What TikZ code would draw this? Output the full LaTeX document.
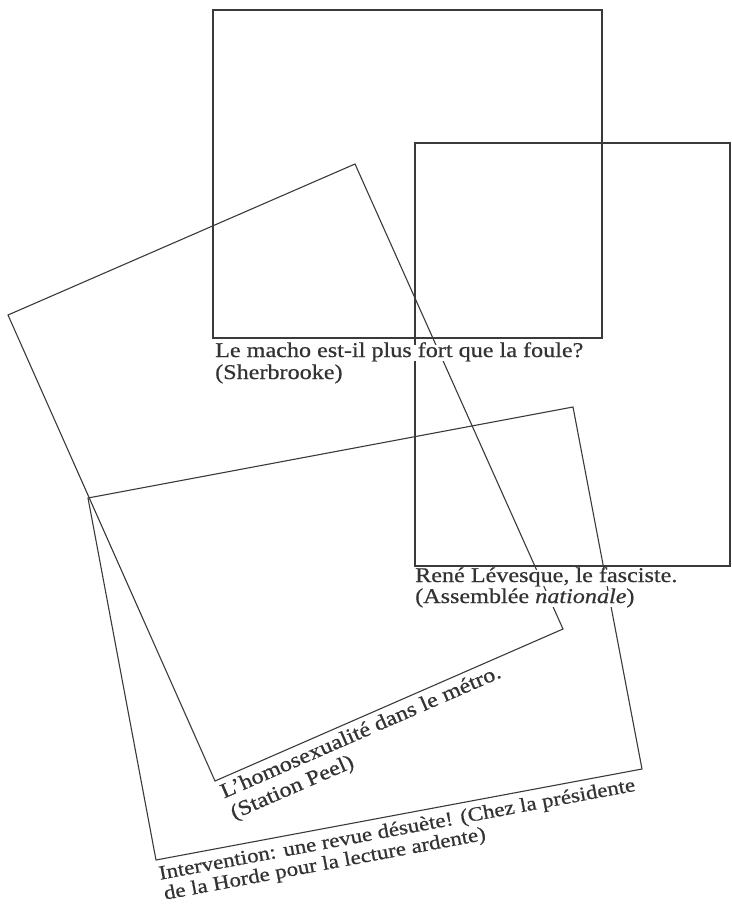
\documentclass[tikz,border=0pt]{standalone}
\usepackage{fontspec}
\setmainfont[FakeStretch=1.15,FakeBold=0.6]{Liberation Serif}
\definecolor{linec}{HTML}{3A3A3A}
\definecolor{textc}{HTML}{333333}
\begin{document}
\begin{tikzpicture}[x=1pt,y=-1pt,
  frame/.style={draw=linec, line width=1.1pt, line join=miter},
  labtext/.style={fill=white, text=textc, inner xsep=1pt, inner ysep=0pt,
    text height=12pt, text depth=4pt,
    font=\fontsize{21}{22}\selectfont, anchor=base west},
  smalltext/.style={labtext, font=\fontsize{20}{22}\selectfont}]
\useasboundingbox (0,0) rectangle (731,910);
% square top
\draw[frame] (213,10) rectangle (602,338);
% square right
\draw[frame] (415,143) rectangle (730,566);
% tilted rectangle (L'homosexualite)
\draw[frame] (8,315) -- (355,164) -- (563,629) -- (215,781) -- cycle;
% tilted rectangle (Intervention)
\draw[frame] (88,498) -- (573,407) -- (642,769) -- (156,860) -- cycle;
% captions
\node[labtext] (t1a) at (214,357) {Le macho est-il plus fort que la foule?};
\node[labtext] (t1b) at (214,379) {(Sherbrooke)};
\node[labtext] (t2a) at (414,582) {René Lévesque, le fasciste.};
\node[labtext] (t2b) at (414,603) {(Assemblée \textit{nationale})};
\node[labtext, rotate=23.6] (t3a) at (223,799) {L'homosexualité dans le métro.};
\node[labtext, rotate=23.6] (t3b) at (233,820) {(Station Peel)};
\node[smalltext, rotate=10.6] (t4a) at (159,880) {Intervention: une revue désuète! (Chez la présidente};
\node[smalltext, rotate=10.6] (t4b) at (164,900) {de la Horde pour la lecture ardente)};
\end{tikzpicture}
\end{document}
